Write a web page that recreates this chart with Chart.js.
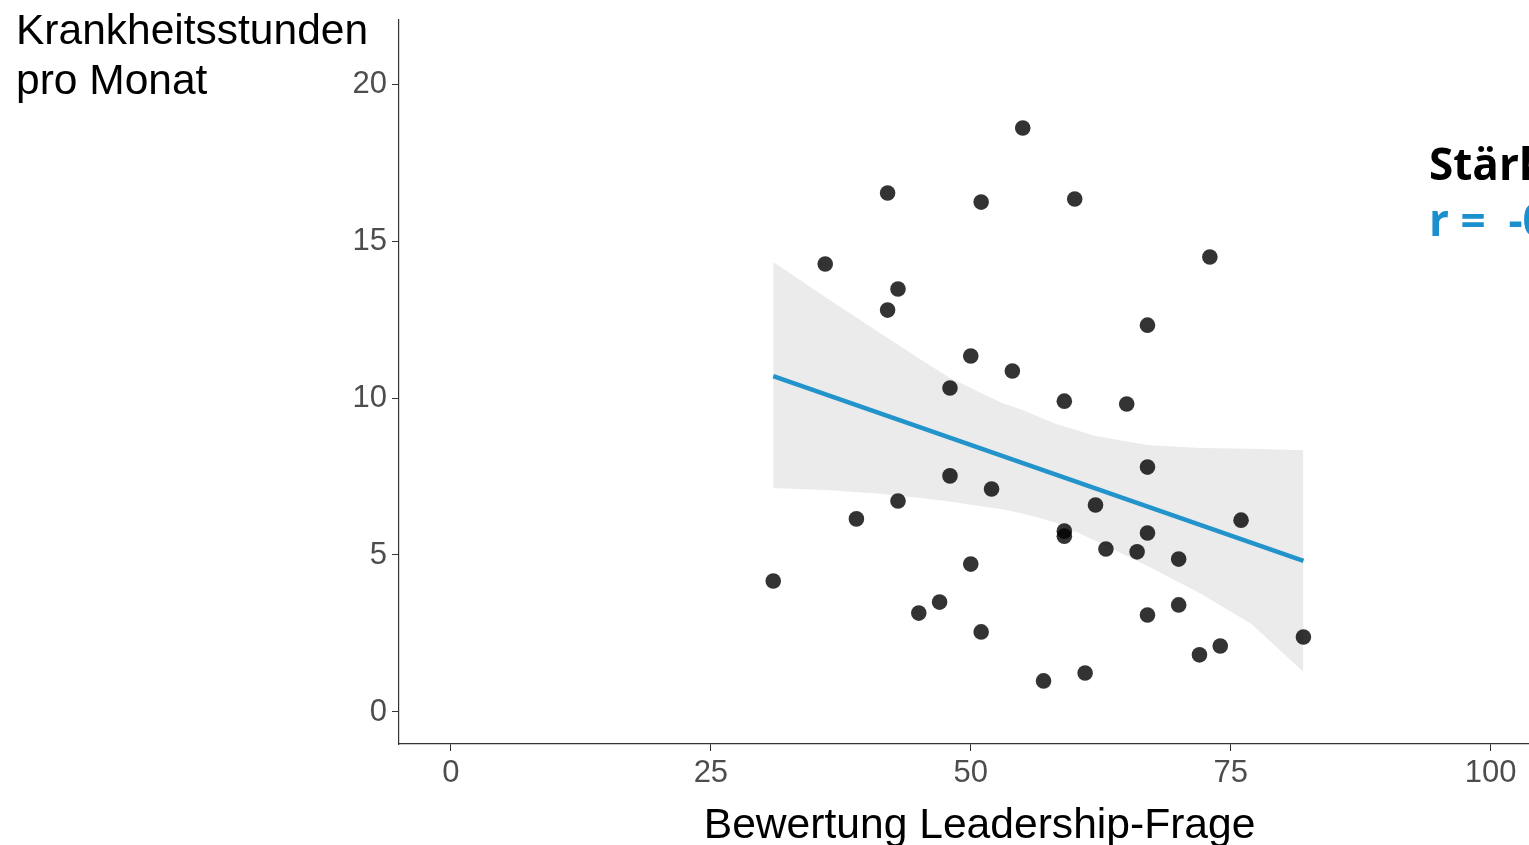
<!DOCTYPE html>
<html>
<head>
<meta charset="utf-8">
<script src="https://cdn.jsdelivr.net/npm/chart.js@4.4.1/dist/chart.umd.min.js"></script>
<style>
  html, body { margin: 0; padding: 0; background: #fff; overflow: hidden; }
  #wrap { width: 1529px; height: 845px; overflow: hidden; }
</style>
</head>
<body>
<div id="wrap"><canvas id="scatter-chart" width="1568" height="845"></canvas></div>
<script>
// leadership rating vs sick hours per month
const leadX = [31, 36, 39, 42, 42, 43, 43, 45, 47, 48, 48, 50, 50, 51, 51, 52, 54, 55, 57, 59,
  59, 59, 60, 61, 62, 63, 65, 66, 67, 67, 67, 67, 70, 70, 72, 73, 74, 76, 82]
const sickHours = [4.17, 14.27, 6.15, 16.53, 12.8, 13.47, 6.72, 3.15, 3.5, 10.32, 7.52, 11.34, 4.71, 16.24, 2.55, 7.1, 10.86, 18.6, 0.99, 9.9,
  5.76, 5.6, 16.34, 1.24, 6.59, 5.19, 9.81, 5.1, 12.32, 7.8, 5.7, 3.09, 4.87, 3.41, 1.82, 14.49, 2.1, 6.11, 2.39]

// regression line + confidence band
const fitX = [31, 82]
const fitY = [10.7, 4.81]
const bandX = [31, 36, 41, 45, 48, 50, 53, 55, 58, 62, 67, 72, 77, 82]
const bandUpper = [14.33, 13.22, 12.13, 11.27, 10.64, 10.32, 9.84, 9.62, 9.2, 8.79, 8.5, 8.41, 8.38, 8.34]
const bandLower = [7.13, 7.07, 6.96, 6.82, 6.7, 6.6, 6.46, 6.32, 6.05, 5.45, 4.65, 3.79, 2.8, 1.27]

const xTicks = [0, 25, 50, 75, 100]
const yTicks = [0, 5, 10, 15, 20]

const xTitle = 'Bewertung Leadership-Frage'
const yTitle = ['Krankheitsstunden', 'pro Monat']
const noteTitle = 'Stärke des Zusammenhangs'
const noteValue = 'r =  -0,22'

const toPoints = (xs, ys) => xs.map((x, i) => ({ x: x, y: ys[i] }))

const textPlugin = {
  id: 'textPlugin',
  afterDraw(chart) {
    const ctx = chart.ctx
    ctx.save()
    ctx.textAlign = 'left'
    ctx.textBaseline = 'alphabetic'
    ctx.fillStyle = '#000'
    ctx.font = '42.5px "Liberation Sans", Arial, sans-serif'
    yTitle.forEach((line, i) => ctx.fillText(line, 16, 44 + i * 50))
    ctx.font = 'bold 44px "Open Sans", sans-serif'
    ctx.fillText(noteTitle, 1429, 180)
    ctx.fillStyle = '#1b90cf'
    ctx.fillText(noteValue, 1429, 236)
    ctx.restore()
  }
}

const scatterdata = {
  datasets: [{
    label: 'Mitarbeiter',
    data: toPoints(leadX, sickHours),
    backgroundColor: 'rgba(0,0,0,0.8)',
    borderWidth: 0,
    pointRadius: 7.8
  },
  {
    label: 'Regression',
    data: toPoints(fitX, fitY),
    showLine: true,
    borderColor: '#2394cb',
    borderWidth: 4.5,
    pointRadius: 0
  },
  {
    label: 'KI oben',
    data: toPoints(bandX, bandUpper),
    showLine: true,
    borderWidth: 0,
    borderColor: 'rgba(0,0,0,0)',
    pointRadius: 0,
    fill: '+1',
    backgroundColor: '#ebebeb'
  },
  {
    label: 'KI unten',
    data: toPoints(bandX, bandLower),
    showLine: true,
    borderWidth: 0,
    borderColor: 'rgba(0,0,0,0)',
    pointRadius: 0
  }]
}

const tickFont = { family: '"Liberation Sans", Arial, sans-serif', size: 31 }

const scatterconfig = {
  type: 'scatter',
  data: scatterdata,
  plugins: [textPlugin],
  options: {
    responsive: false,
    animation: false,
    layout: {
      padding: { top: 20, left: 0, right: 1, bottom: 0 }
    },
    scales: {
      x: {
        type: 'linear',
        min: -5,
        max: 106.7,
        afterBuildTicks: (scale) => { scale.ticks = xTicks.map(v => ({ value: v })) },
        afterFit: (scale) => { scale.height = 101 },
        border: { display: true, color: '#333', width: 1.2 },
        grid: { drawOnChartArea: false, drawTicks: true, tickLength: 7, color: '#333' },
        ticks: { font: tickFont, color: '#4d4d4d', padding: 4, maxRotation: 0 },
        title: {
          display: true,
          text: xTitle,
          color: '#000',
          font: { family: '"Liberation Sans", Arial, sans-serif', size: 42.6 },
          padding: { top: 0, bottom: -7 }
        }
      },
      y: {
        type: 'linear',
        min: -1.02,
        max: 22.04,
        afterBuildTicks: (scale) => { scale.ticks = yTicks.map(v => ({ value: v })) },
        afterFit: (scale) => {
          scale.width = 399
          scale.paddingTop = 0
          scale.paddingBottom = 0
        },
        border: { display: true, color: '#333', width: 1.2 },
        grid: { drawOnChartArea: false, drawTicks: true, tickLength: 7, color: '#333' },
        ticks: { font: tickFont, color: '#4d4d4d', padding: 5 }
      }
    },
    plugins: {
      legend: { display: false },
      tooltip: { enabled: false }
    }
  }
}

const chartElement = document.getElementById('scatter-chart').getContext('2d')
const chartScatter = new Chart(chartElement, scatterconfig)
</script>
</body>
</html>
